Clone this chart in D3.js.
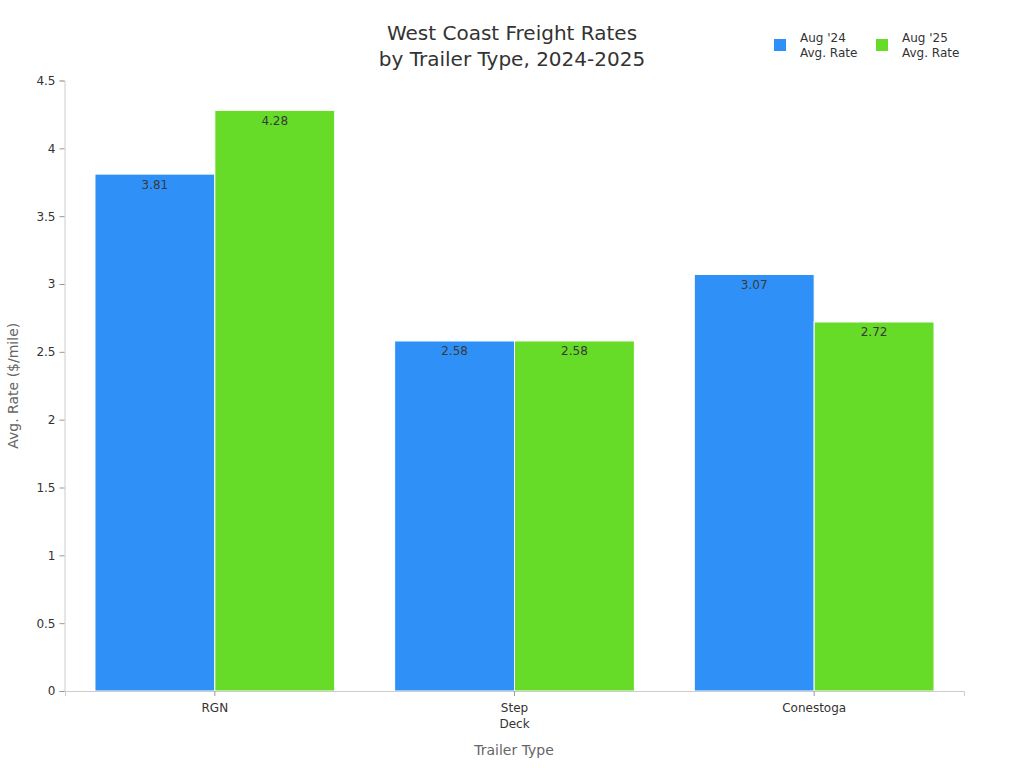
<!DOCTYPE html>
<html><head><meta charset="utf-8">
<script src="https://cdn.jsdelivr.net/npm/d3@7"></script>
<style>body{margin:0;background:#fff;font-family:"DejaVu Sans",sans-serif;}</style>
</head><body>
<svg id="c" width="1024" height="768"></svg>
<script>
const categories = [["RGN"], ["Step", "Deck"], ["Conestoga"]];
const seriesNames = [["Aug '24", "Avg. Rate"], ["Aug '25", "Avg. Rate"]];
const aug24 = [3.81, 2.58, 3.07];
const aug25 = [4.28, 2.58, 2.72];
const yTicks = [0, 0.5, 1, 1.5, 2, 2.5, 3, 3.5, 4, 4.5];
const colors = ["#2f91f8", "#66db28"];

const svg = d3.select("#c");
const W = 1024, H = 768;
const keys = categories.map(c => c.join(" "));
const x = d3.scaleBand().domain(keys).range([65, 964]).padding(0);
const x1 = d3.scaleBand().domain([0, 1]).range([x.bandwidth() * 0.1, x.bandwidth() * 0.9]).padding(0);
const y = d3.scaleLinear().domain([0, 4.5]).range([691, 80.5]);

// axes
const ya = svg.append("g").attr("transform", `translate(64.5,0)`)
  .call(d3.axisLeft(y).tickValues(yTicks).tickFormat(d3.format("")).tickSize(5).tickPadding(4));
ya.select(".domain").attr("stroke", "#ccc");
ya.selectAll(".tick line").attr("stroke", "#999");
ya.selectAll("text").attr("fill", "#333").style("font-size", "12px").style("font-family", "DejaVu Sans");

const series = [aug24, aug25];
const g = svg.append("g");
keys.forEach((k, i) => {
  series.forEach((s, j) => {
    const x0 = x(k) + x1(j);
    g.append("rect").attr("x", x0).attr("y", y(s[i])).attr("width", x1.bandwidth())
      .attr("height", y(0) - y(s[i])).attr("fill", colors[j]).attr("stroke", "#fff").attr("stroke-width", 1);
    g.append("text").attr("x", x0 + x1.bandwidth() / 2).attr("y", y(s[i]) + 14.5)
      .attr("text-anchor", "middle").attr("fill", "#3a3a3a").style("font-size", "12px").text(s[i]);
  });
});

const xa = svg.append("g").attr("transform", `translate(0,${y(0)})`)
  .call(d3.axisBottom(x).tickSize(5).tickFormat(""));
xa.select(".domain").attr("stroke", "#ccc");
xa.selectAll(".tick line").attr("stroke", "#999");
xa.selectAll(".tick").each(function(d, i) {
  const t = d3.select(this).append("text").attr("fill", "#333").attr("text-anchor", "middle")
    .style("font-size", "12px").style("font-family", "DejaVu Sans");
  categories[i].forEach((line, li) => t.append("tspan").attr("x", 0).attr("y", 20.5 + li * 16).text(line));
});

svg.append("text").attr("x", 514).attr("y", 755).attr("text-anchor", "middle")
  .attr("fill", "#666").style("font-size", "14px").text("Trailer Type");
svg.append("text").attr("transform", `translate(18,${(y(0) + y(4.5)) / 2}) rotate(-90)`)
  .attr("text-anchor", "middle").attr("fill", "#666").style("font-size", "14px").text("Avg. Rate ($/mile)");

const title = svg.append("text").attr("x", 512).attr("text-anchor", "middle").attr("fill", "#333").style("font-size", "20px");
title.append("tspan").attr("x", 512).attr("y", 40).text("West Coast Freight Rates");
title.append("tspan").attr("x", 512).attr("y", 66).text("by Trailer Type, 2024-2025");

const lg = svg.append("g");
const lx = [774, 876];
seriesNames.forEach((n, j) => {
  lg.append("rect").attr("x", lx[j]).attr("y", 39).attr("width", 12).attr("height", 12).attr("fill", colors[j]);
  const t = lg.append("text").attr("fill", "#333").style("font-size", "12px");
  n.forEach((line, li) => t.append("tspan").attr("x", lx[j] + 26).attr("y", 42 + li * 15).text(line));
});
</script>
</body></html>
